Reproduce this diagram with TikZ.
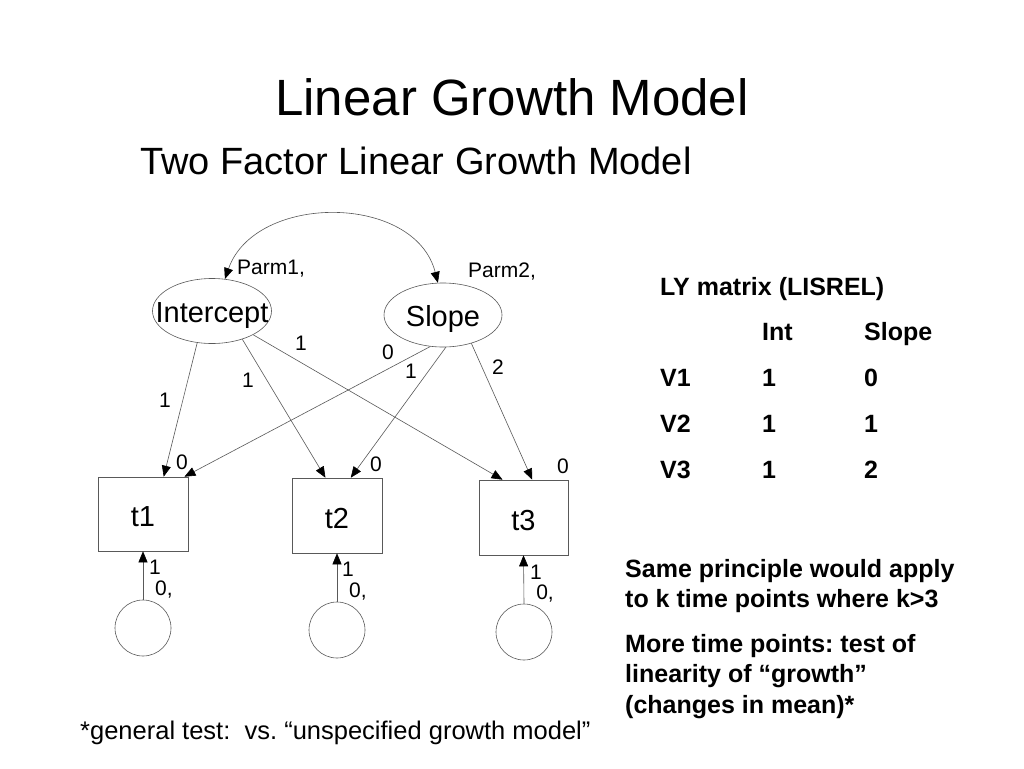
\documentclass[tikz,border=0pt]{standalone}
\usepackage{fontspec}
\setmainfont{Liberation Sans}
\usetikzlibrary{shapes.geometric,arrows.meta}
\frenchspacing
\begin{document}
\begin{tikzpicture}[x=1pt,y=-1pt,
 lat/.style={ellipse,draw=black!65,line width=0.6pt,inner sep=0pt,font=\fontsize{29}{29}\selectfont},
 obs/.style={rectangle,draw=black!65,line width=0.6pt,inner sep=0pt,font=\fontsize{29}{29}\selectfont},
 err/.style={circle,draw=black!65,line width=0.6pt,inner sep=0pt,minimum size=56pt},
 tip/.tip={Triangle[length=11pt,width=9pt,color=black]},
 arr/.style={draw=black!65,line width=0.6pt,-tip},
 dbl/.style={draw=black!65,line width=0.6pt,tip-tip},
 lbl/.style={inner sep=0pt,font=\fontsize{21}{21}\selectfont},
 bold/.style={inner sep=0pt,anchor=base west,font=\fontsize{25}{25}\selectfont\bfseries},
 plain/.style={inner sep=0pt,font=\fontsize{25.5}{25.5}\selectfont}]
\useasboundingbox[fill=white] (0,0) rectangle (1024,768);

% titles
\node[inner sep=0pt,font=\fontsize{51}{51}\selectfont] (title) at (512,97) {Linear Growth Model};
\node[inner sep=0pt,font=\fontsize{38}{38}\selectfont] (sub) at (416,161) {Two Factor Linear Growth Model};

% latent factors
\node[lat,inner xsep=-15pt,minimum width=119pt,minimum height=65pt] (int) at (212,311) {\raisebox{-5pt}[\height][\depth]{Intercept}};
\node[lat,minimum width=118pt,minimum height=64pt] (slo) at (443,315) {\raisebox{-4pt}[\height][\depth]{Slope}};

% observed
\node[obs,minimum width=90pt,minimum height=74pt] (t1) at (143,514) {\raisebox{-3pt}[\height][\depth]{t1}};
\node[obs,minimum width=90pt,minimum height=75pt] (t2) at (337,515.5) {\raisebox{-3pt}[\height][\depth]{t2}};
\node[obs,minimum width=89pt,minimum height=75pt] (t3) at (523.5,517.5) {\raisebox{-3pt}[\height][\depth]{t3}};

% errors
\node[err] (e1) at (143,628) {};
\node[err] (e2) at (337,630) {};
\node[err] (e3) at (524,632) {};

% covariance
\draw[dbl] (int.68) .. controls (255,193) and (415,193) .. (slo.99);

% loadings
\draw[arr] (int.-115) -- (t1.61.6);
\draw[arr] (int.-43) -- (t2.107.7);
\draw[arr] (int.-30) -- (t3.119.8);
\draw[arr] (slo.-112) -- (t1.42.8);
\draw[arr] (slo.-85) -- (t2.70.9);
\draw[arr] (slo.-45) -- (t3.77.2);

% errors to observed
\draw[arr] (e1.north) -- (t1.south);
\draw[arr] (e2.north) -- (t2.south);
\draw[arr] (e3.north) -- (t3.south);

% labels
\node[lbl] (p1) at (271,269) {Parm1,};
\node[lbl] (p2) at (502,272) {Parm2,};
\node[lbl] (l1) at (165,400) {1};
\node[lbl] (l2) at (248,380) {1};
\node[lbl] (l3) at (301,343) {1};
\node[lbl] (l4) at (388,352) {0};
\node[lbl] (l5) at (411,371) {1};
\node[lbl] (l6) at (498,367) {2};
\node[lbl] (m1) at (182,462) {0};
\node[lbl] (m2) at (376,464) {0};
\node[lbl] (m3) at (563,466) {0};
\node[lbl] (a1) at (155,567) {1};
\node[lbl] (b1) at (164,590) {0,};
\node[lbl] (a2) at (348,569) {1};
\node[lbl] (b2) at (358,592) {0,};
\node[lbl] (a3) at (536,572) {1};
\node[lbl] (b3) at (545,594) {0,};

% LY matrix
\node[bold] (ly) at (660,295) {LY matrix (LISREL)};
\node[bold] (hi) at (762,340) {Int};
\node[bold] (hs) at (864,340) {Slope};
\node[bold] (v1) at (660,386) {V1};
\node[bold] (v1a) at (762,386) {1};
\node[bold] (v1b) at (864,386) {0};
\node[bold] (v2) at (660,432) {V2};
\node[bold] (v2a) at (762,432) {1};
\node[bold] (v2b) at (864,432) {1};
\node[bold] (v3) at (660,478) {V3};
\node[bold] (v3a) at (762,478) {1};
\node[bold] (v3b) at (864,478) {2};

% notes
\node[bold] (n1) at (625,577) {Same principle would apply};
\node[bold] (n2) at (625,607) {to k time points where k>3};
\node[bold] (n3) at (625,652) {More time points: test of};
\node[bold] (n4) at (625,682) {linearity of “growth”};
\node[bold] (n5) at (625,713) {(changes in mean)*};

\node[plain,anchor=base west] (foot) at (80,739) {*general test:\ \ vs. “unspecified growth model”};
\end{tikzpicture}
\end{document}
